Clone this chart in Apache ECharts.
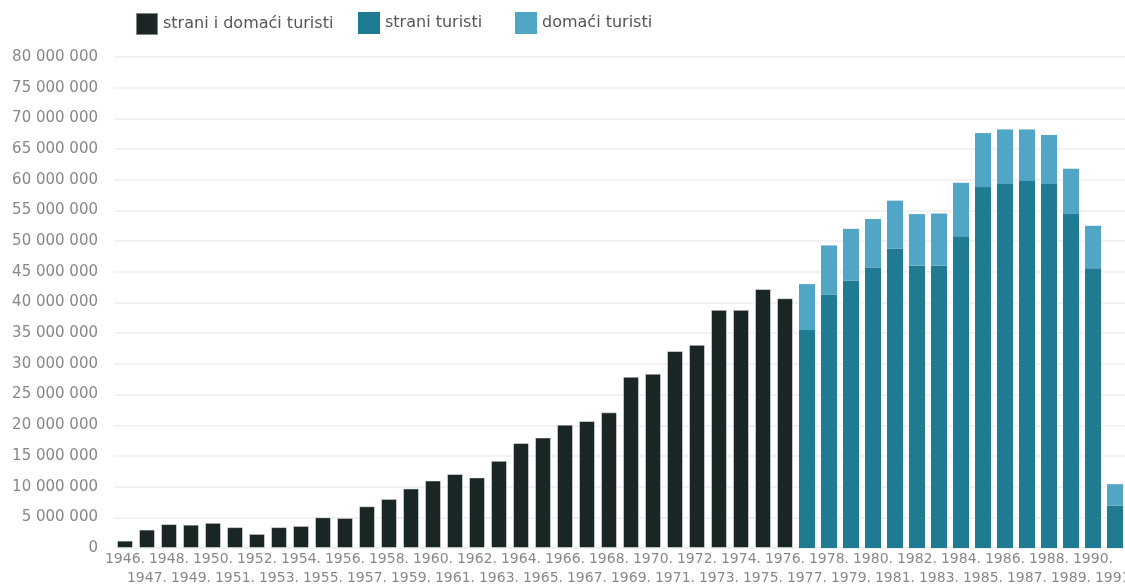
<!DOCTYPE html>
<html>
<head>
<meta charset="utf-8">
<script src="https://cdn.jsdelivr.net/npm/echarts@6/dist/echarts.min.js"></script>
<style>
html,body{margin:0;padding:0;background:#fff;overflow:hidden;width:1125px;height:585px;}
#chart{position:absolute;left:0;top:0;width:1125px;height:585px;}
</style>
</head>
<body>
<div id="chart"></div>
<script>
const years = [];
for (let y = 1946; y <= 1991; y++) years.push(String(y));

const seriesNames = ['strani i domaći turisti', 'strani turisti', 'domaći turisti'];

// strani i domaći turisti (1946–1976)
const ukupno = [1200000, 3000000, 3900000, 3800000, 4100000, 3400000, 2300000, 3400000, 3600000, 5000000,
  4900000, 6800000, 8000000, 9700000, 11000000, 12050000, 11500000, 14200000, 17100000, 18000000,
  20100000, 20700000, 22100000, 27900000, 28400000, 32100000, 33100000, 38800000, 38800000, 42200000,
  40700000];
// strani turisti (1977–1991)
const strani = [35500000, 41300000, 43600000, 45700000, 48800000, 46000000, 46000000, 50800000,
  58800000, 59300000, 59800000, 59300000, 54400000, 45600000, 6900000];
// domaći turisti (1977–1991)
const domaci = [7500000, 8000000, 8400000, 7900000, 7800000, 8400000, 8500000, 8700000,
  8800000, 8900000, 8400000, 8000000, 7400000, 6900000, 3500000];

const nDark = ukupno.length;
const pad = (arr, before, total) => {
  const out = [];
  for (let i = 0; i < total; i++) {
    const j = i - before;
    out.push(j >= 0 && j < arr.length ? arr[j] : null);
  }
  return out;
};

const chart = echarts.init(document.getElementById('chart'), null, {width: 1125, height: 585});
const font = '"DejaVu Sans", sans-serif';

const legendBase = {
  top: 12, padding: 0, icon: 'rect',
  itemWidth: 22, itemHeight: 22,
  textStyle: {fontFamily: font, fontSize: 16, color: '#555'}
};
const legendLefts = [135, 358, 515];

chart.setOption({
  animation: false,
  textStyle: {fontFamily: font},
  legend: seriesNames.map((n, i) => Object.assign({}, legendBase, {left: legendLefts[i], data: [n]})),
  grid: {left: 114, width: 1012, top: 57, bottom: 37, containLabel: false, outerBoundsMode: 'none'},
  xAxis: {
    type: 'category',
    data: years,
    axisLine: {show: false},
    axisTick: {show: false},
    axisLabel: {
      interval: 0, margin: 2, hideOverlap: false,
      fontFamily: font, fontSize: 14, color: '#888', lineHeight: 19,
      formatter: (v, i) => (i % 2 ? '\n' + v + '.' : v + '.')
    }
  },
  yAxis: {
    type: 'value',
    min: 0, max: 80000000, interval: 5000000,
    axisLine: {show: false},
    axisTick: {show: false},
    splitLine: {lineStyle: {color: '#eeeeee', width: 1.5}},
    axisLabel: {
      margin: 16,
      fontFamily: font, fontSize: 15, color: '#888',
      formatter: v => String(v).replace(/\B(?=(\d{3})+(?!\d))/g, ' ')
    }
  },
  series: [
    {
      name: seriesNames[0], type: 'bar', stack: 't', barWidth: 16,
      itemStyle: {color: '#1a2526', borderColor: 'rgba(255,255,255,0.45)', borderWidth: 1},
      data: pad(ukupno, 0, years.length)
    },
    {
      name: seriesNames[1], type: 'bar', stack: 't', barWidth: 16,
      itemStyle: {color: '#1e7b91'},
      data: pad(strani, nDark, years.length)
    },
    {
      name: seriesNames[2], type: 'bar', stack: 't', barWidth: 16,
      itemStyle: {color: '#51a6c5'},
      data: pad(domaci, nDark, years.length)
    }
  ]
});
</script>
</body>
</html>
